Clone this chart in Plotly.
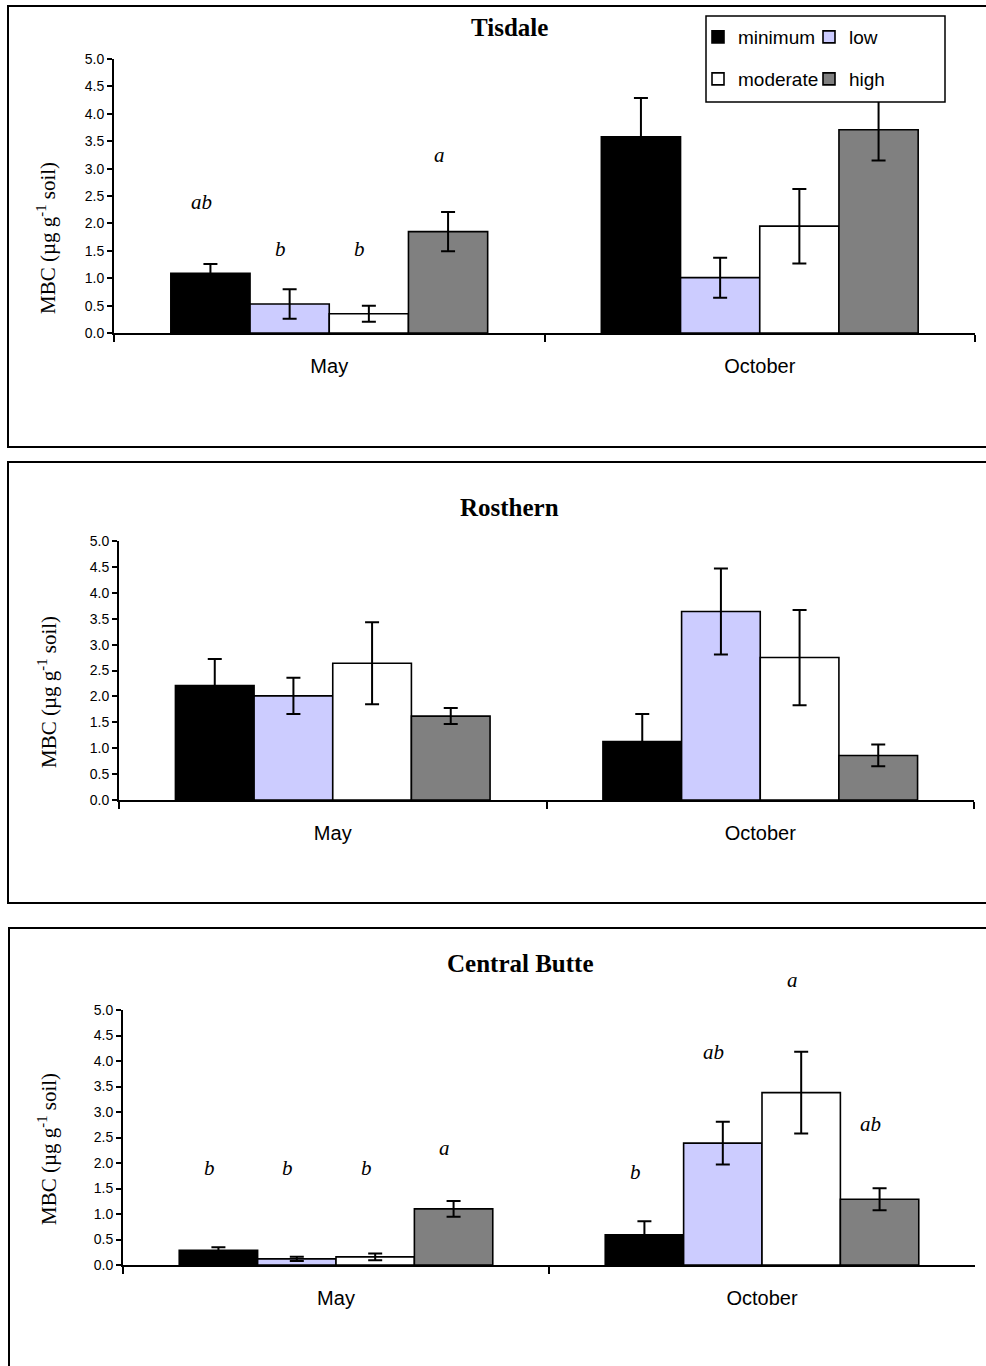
import plotly.graph_objects as go

W, H = 986, 1366

months = ["May", "October"]
treatments = ["minimum", "low", "moderate", "high"]
colors = ["#000000", "#CCCCFF", "#FFFFFF", "#808080"]

# Tisdale
tisdale_may = [1.09, 0.53, 0.35, 1.85]
tisdale_may_err = [0.17, 0.27, 0.145, 0.36]
tisdale_oct = [3.58, 1.01, 1.95, 3.71]
tisdale_oct_err = [0.71, 0.365, 0.68, 0.56]
tisdale_may_letters = ["ab", "b", "b", "a"]
tisdale_may_letter_y = [2.39, 1.53, 1.53, 3.24]
tisdale_oct_letters = ["", "", "", ""]
tisdale_oct_letter_y = [0, 0, 0, 0]

# Rosthern
rosthern_may = [2.21, 2.01, 2.64, 1.62]
rosthern_may_err = [0.51, 0.35, 0.79, 0.155]
rosthern_oct = [1.13, 3.64, 2.75, 0.86]
rosthern_oct_err = [0.53, 0.83, 0.92, 0.21]
rosthern_may_letters = ["", "", "", ""]
rosthern_may_letter_y = [0, 0, 0, 0]
rosthern_oct_letters = ["", "", "", ""]
rosthern_oct_letter_y = [0, 0, 0, 0]

# Central Butte
cbutte_may = [0.29, 0.12, 0.16, 1.10]
cbutte_may_err = [0.06, 0.04, 0.065, 0.155]
cbutte_oct = [0.59, 2.39, 3.38, 1.29]
cbutte_oct_err = [0.27, 0.42, 0.80, 0.215]
cbutte_may_letters = ["b", "b", "b", "a"]
cbutte_may_letter_y = [1.91, 1.91, 1.91, 2.30]
cbutte_oct_letters = ["b", "ab", "a", "ab"]
cbutte_oct_letter_y = [1.83, 4.18, 5.58, 2.77]

y_ticks = [0.0, 0.5, 1.0, 1.5, 2.0, 2.5, 3.0, 3.5, 4.0, 4.5, 5.0]
Y_MAX = 5.0

SERIF = "Times New Roman, Liberation Serif, serif"
SANS = "Arial, Liberation Sans, sans-serif"
BARGAP = 0.264

sites = [
    dict(title="Tisdale", may=tisdale_may, may_err=tisdale_may_err, oct=tisdale_oct, oct_err=tisdale_oct_err,
         ml=tisdale_may_letters, mly=tisdale_may_letter_y, ol=tisdale_oct_letters, oly=tisdale_oct_letter_y,
         ax=(114, 975), y0=333, y5=59, box=(8, 6, 1000, 447), tpos=(509, 28), lpos=(47, 238)),
    dict(title="Rosthern", may=rosthern_may, may_err=rosthern_may_err, oct=rosthern_oct, oct_err=rosthern_oct_err,
         ml=rosthern_may_letters, mly=rosthern_may_letter_y, ol=rosthern_oct_letters, oly=rosthern_oct_letter_y,
         ax=(119, 974), y0=800, y5=541, box=(8, 462, 1000, 903), tpos=(509, 508), lpos=(47, 692)),
    dict(title="Central Butte", may=cbutte_may, may_err=cbutte_may_err, oct=cbutte_oct, oct_err=cbutte_oct_err,
         ml=cbutte_may_letters, mly=cbutte_may_letter_y, ol=cbutte_oct_letters, oly=cbutte_oct_letter_y,
         ax=(123, 975), y0=1265, y5=1010, box=(9, 928, 1000, 1400), tpos=(520, 963), lpos=(47, 1149)),
]

fig = go.Figure()
shapes = []
annotations = []

for k, s in enumerate(sites):
    xa = "x" if k == 0 else f"x{k+1}"
    ya = "y" if k == 0 else f"y{k+1}"
    for j, t in enumerate(treatments):
        fig.add_trace(go.Bar(
            x=months, y=[s["may"][j], s["oct"][j]], name=t,
            marker=dict(color=colors[j], line=dict(color="#000000", width=1.6)),
            error_y=dict(type="data", array=[s["may_err"][j], s["oct_err"][j]], visible=True,
                         color="#000000", thickness=2, width=7),
            xaxis=xa, yaxis=ya, showlegend=(k == 0),
            legend="legend" if j < 2 else "legend2",
        ))
    x0p, x1p = s["ax"]
    lay_x = "xaxis" if k == 0 else f"xaxis{k+1}"
    lay_y = "yaxis" if k == 0 else f"yaxis{k+1}"
    fig.update_layout({
        lay_x: dict(domain=[x0p / W, x1p / W], anchor=ya, type="category", automargin=False,
                    showline=True, linecolor="#000000", linewidth=2,
                    ticks="outside", tickson="boundaries", ticklen=7, tickwidth=2, tickcolor="#000000",
                    tickfont=dict(family=SANS, size=20, color="#000000"), ticklabelstandoff=14,
                    showgrid=False, zeroline=False),
        lay_y: dict(domain=[1 - s["y0"] / H, 1 - s["y5"] / H], anchor=xa, range=[0, Y_MAX], automargin=False,
                    tickvals=y_ticks, tickformat=".1f",
                    showline=True, linecolor="#000000", linewidth=2,
                    ticks="outside", ticklen=5, tickwidth=2, tickcolor="#000000",
                    tickfont=dict(family=SANS, size=14, color="#000000"),
                    showgrid=False, zeroline=False),
    })
    # panel border
    bx0, by0, bx1, by1 = s["box"]
    shapes.append(dict(type="rect", xref="paper", yref="paper",
                       x0=bx0 / W, x1=bx1 / W, y0=1 - by1 / H, y1=1 - by0 / H,
                       line=dict(color="#000000", width=2), fillcolor="rgba(0,0,0,0)", layer="below"))
    # title
    annotations.append(dict(text=f"<b>{s['title']}</b>", xref="paper", yref="paper",
                            x=s["tpos"][0] / W, y=1 - s["tpos"][1] / H, xanchor="center", yanchor="middle",
                            showarrow=False, font=dict(family=SERIF, size=25, color="#000000")))
    # y label
    annotations.append(dict(text="MBC (µg g<sup>-1</sup> soil)", xref="paper", yref="paper",
                            x=s["lpos"][0] / W, y=1 - s["lpos"][1] / H, xanchor="center", yanchor="middle",
                            textangle=-90, showarrow=False, font=dict(family=SERIF, size=21, color="#000000")))
    # significance letters
    cat_px = (x1p - x0p) / len(months)
    bw_px = cat_px * (1 - BARGAP) / len(treatments)
    for mi, (letters, ly) in enumerate([(s["ml"], s["mly"]), (s["ol"], s["oly"])]):
        for j, (txt, yv) in enumerate(zip(letters, ly)):
            if not txt:
                continue
            annotations.append(dict(text=f"<i>{txt}</i>", xref=xa, yref=f"{ya} domain",
                                    x=months[mi], y=yv / Y_MAX,
                                    xshift=(j - 1.5) * bw_px - 9, xanchor="center", yanchor="middle",
                                    showarrow=False, font=dict(family=SERIF, size=21, color="#000000")))

# legend box (Tisdale)
shapes.append(dict(type="rect", xref="paper", yref="paper",
                   x0=706 / W, x1=945 / W, y0=1 - 102 / H, y1=1 - 16 / H,
                   line=dict(color="#000000", width=1.5), fillcolor="#FFFFFF", layer="above"))

legend_common = dict(orientation="h", entrywidth=66, entrywidthmode="pixels",
                     bgcolor="rgba(0,0,0,0)", borderwidth=0, xanchor="left", yanchor="middle",
                     font=dict(family=SANS, size=19, color="#000000"), traceorder="normal")

fig.update_layout(
    width=W, height=H,
    margin=dict(l=0, r=0, t=0, b=0, autoexpand=False),
    paper_bgcolor="#FFFFFF", plot_bgcolor="rgba(0,0,0,0)",
    barmode="group", bargap=BARGAP, bargroupgap=0,
    shapes=shapes, annotations=annotations,
    legend=dict(x=698 / W, y=1 - 37 / H, **legend_common),
    legend2=dict(x=698 / W, y=1 - 79 / H, **legend_common),
)

fig.write_html("out.html")
